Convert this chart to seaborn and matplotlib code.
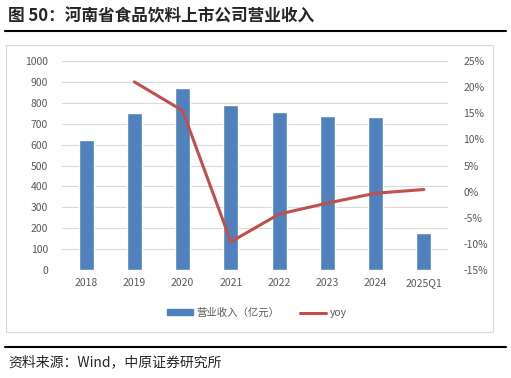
import numpy as np
import pandas as pd
import seaborn as sns
import matplotlib.pyplot as plt
from matplotlib.lines import Line2D
from matplotlib.patches import Patch, Rectangle

# data
years = ["2018", "2019", "2020", "2021", "2022", "2023", "2024", "2025Q1"]
revenue = [622, 753, 871, 789, 755, 737, 734, 178]  # 营业收入（亿元）
yoy = [np.nan, 21.0, 15.5, -9.6, -4.3, -2.2, -0.3, 0.4]  # %

sns.set_theme(style="white")
plt.rcParams['font.family'] = ['Noto Sans CJK SC', 'DejaVu Sans']

df = pd.DataFrame({"year": years, "revenue": revenue, "yoy": yoy})

fig = plt.figure(figsize=(5.11, 3.78), dpi=100)
ax = fig.add_axes([62 / 511, 1 - 270 / 378, 386 / 511, 209 / 378])

grey = "#595959"
bar_color = "#4F81BD"
line_color = "#C0504D"

sns.barplot(data=df, x="year", y="revenue", color=bar_color, width=0.31,
            saturation=1, ax=ax, zorder=2)
ax.set_ylim(0, 1000)
ax.set_yticks(range(0, 1001, 100))
ax.set_xlim(-0.5, len(years) - 0.5)
ax.yaxis.grid(True, color="#D9D9D9", linewidth=0.8, zorder=0)
ax.set_axisbelow(True)
ax.set_xlabel("")
ax.set_ylabel("")
for s in ax.spines.values():
    s.set_visible(False)
ax.tick_params(axis="both", length=0, labelsize=7.5, colors=grey, pad=6)
ax.tick_params(axis="y", pad=10)

ax2 = ax.twinx()
sns.lineplot(x=np.arange(len(years)), y=df["yoy"], color=line_color,
             linewidth=2.2, ax=ax2)
ax2.set_ylim(-15, 25)
ax2.set_yticks(range(-15, 26, 5))
ax2.set_yticklabels([f"{v}%" for v in range(-15, 26, 5)])
ax2.set_ylabel("")
for s in ax2.spines.values():
    s.set_visible(False)
ax2.tick_params(axis="y", length=0, labelsize=7.5, colors=grey, pad=11)

# legend
handles = [Patch(color=bar_color), Line2D([0], [0], color=line_color, lw=2.2)]
fig.legend(handles, ["营业收入（亿元）", "yoy"], loc="center",
           bbox_to_anchor=(257 / 511, 1 - 313 / 378), ncol=2, frameon=False,
           fontsize=7.5, labelcolor=grey, handlelength=2.5, handleheight=0.5,
           columnspacing=2, handletextpad=0.3)

# chart frame
fig.patches.append(Rectangle((6 / 511, 1 - 332 / 378), 487 / 511, 287 / 378,
                             transform=fig.transFigure, fill=False,
                             edgecolor="#D9D9D9", linewidth=0.8))

# title and source
fig.text(8 / 511, 1 - 16 / 378, "图 50：河南省食品饮料上市公司营业收入",
         fontsize=12, fontweight="bold", va="center", ha="left")
fig.add_artist(Line2D([5 / 511, 506 / 511], [1 - 31 / 378] * 2,
                      transform=fig.transFigure, color="black", lw=1.5))
fig.add_artist(Line2D([5 / 511, 506 / 511], [1 - 347 / 378] * 2,
                      transform=fig.transFigure, color="black", lw=1.5))
fig.text(8 / 511, 1 - 362 / 378, "资料来源：Wind，中原证券研究所",
         fontsize=10, va="center", ha="left")

fig.savefig("out.png", dpi=100)
